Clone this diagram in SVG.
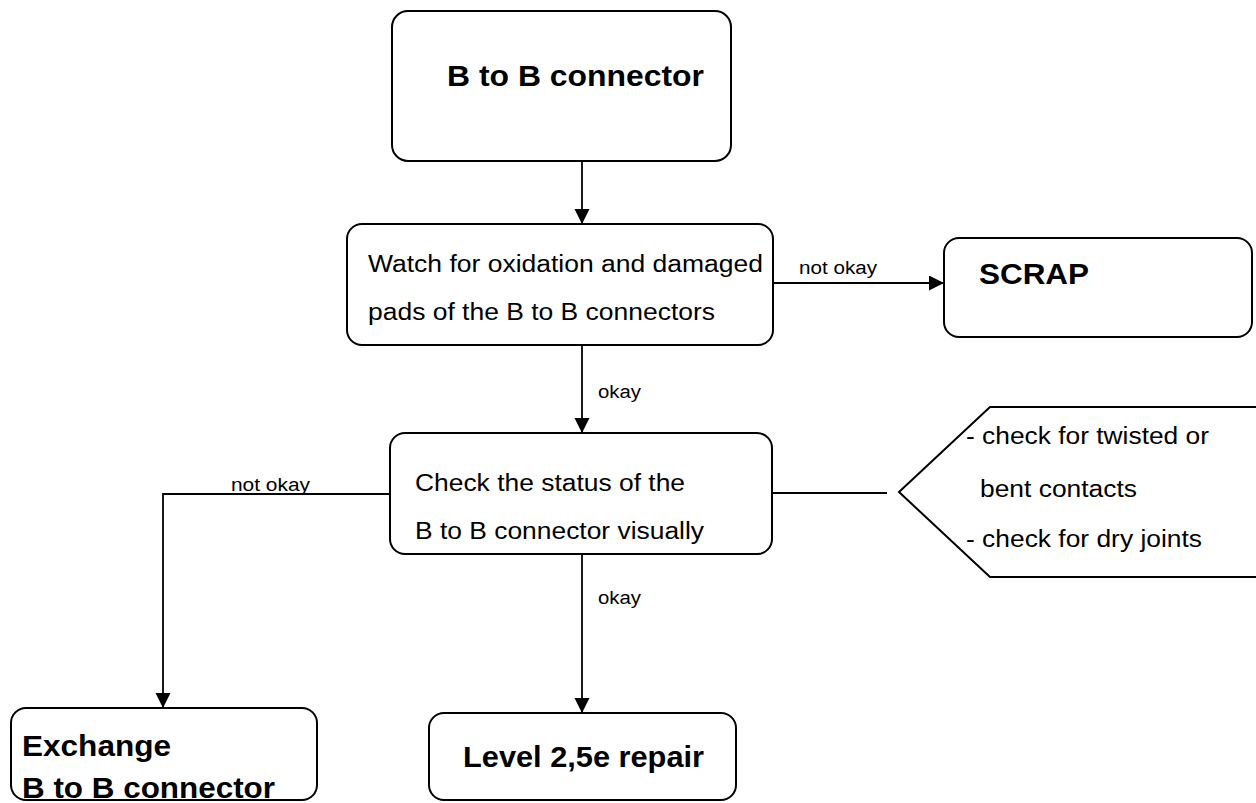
<svg xmlns="http://www.w3.org/2000/svg" width="1256" height="803" viewBox="0 0 1256 803">
<style>
.box{fill:#fff;stroke:#000;stroke-width:2}
.ln{fill:none;stroke:#000;stroke-width:1.8}
.t{font-family:"Liberation Sans",Arial,sans-serif;font-size:23px;fill:#000}
.b{font-family:"Liberation Sans",Arial,sans-serif;font-size:29px;font-weight:bold;fill:#000}
.l{font-family:"Liberation Sans",Arial,sans-serif;font-size:18px;fill:#000}
</style>
<defs>
<marker id="ah" markerUnits="userSpaceOnUse" markerWidth="16" markerHeight="16" refX="15" refY="7.5" orient="auto">
<path d="M0,0 L15,7.5 L0,15 z" fill="#000"/>
</marker>
</defs>
<g id="connectors">
<line class="ln" x1="582" y1="161" x2="582" y2="224" marker-end="url(#ah)"/>
<line class="ln" x1="773" y1="283" x2="944" y2="283" marker-end="url(#ah)"/>
<text class="l" x="799" y="274" textLength="78" lengthAdjust="spacingAndGlyphs">not okay</text>
<line class="ln" x1="582" y1="345" x2="582" y2="433" marker-end="url(#ah)"/>
<text class="l" x="598" y="398" textLength="43" lengthAdjust="spacingAndGlyphs">okay</text>
<polyline class="ln" points="390,494 163,494 163,708" marker-end="url(#ah)"/>
<text class="l" x="231" y="491" textLength="79" lengthAdjust="spacingAndGlyphs">not okay</text>
<line class="ln" x1="772" y1="493" x2="887" y2="493"/>
<line class="ln" x1="582" y1="554" x2="582" y2="713" marker-end="url(#ah)"/>
<text class="l" x="598" y="604" textLength="43" lengthAdjust="spacingAndGlyphs">okay</text>
</g>
<g id="start">
<rect class="box" x="392" y="11" width="339" height="150" rx="16"/>
<text class="b" x="447" y="86" font-size="30" textLength="257" lengthAdjust="spacingAndGlyphs">B to B connector</text>
</g>
<g id="watch">
<rect class="box" x="347" y="224" width="426" height="121" rx="15"/>
<text class="t" x="368" y="272" textLength="395" lengthAdjust="spacingAndGlyphs">Watch for oxidation and damaged</text>
<text class="t" x="368" y="320" textLength="347" lengthAdjust="spacingAndGlyphs">pads of the B to B connectors</text>
</g>
<g id="scrap">
<rect class="box" x="944" y="238" width="308" height="99" rx="15"/>
<text class="b" x="979" y="284" font-size="28" textLength="110" lengthAdjust="spacingAndGlyphs">SCRAP</text>
</g>
<g id="check">
<rect class="box" x="390" y="433" width="382" height="121" rx="15"/>
<text class="t" x="415" y="491" textLength="270" lengthAdjust="spacingAndGlyphs">Check the status of the</text>
<text class="t" x="415" y="539" textLength="289" lengthAdjust="spacingAndGlyphs">B to B connector visually</text>
</g>
<g id="note">
<polygon class="box" points="1262,407 990,407 899,492 990,577 1262,577"/>
<text class="t" x="966" y="444" textLength="243" lengthAdjust="spacingAndGlyphs">- check for twisted or</text>
<text class="t" x="980" y="497" textLength="157" lengthAdjust="spacingAndGlyphs">bent contacts</text>
<text class="t" x="966" y="547" textLength="236" lengthAdjust="spacingAndGlyphs">- check for dry joints</text>
</g>
<g id="exchange">
<rect class="box" x="11" y="708" width="306" height="92" rx="15"/>
<text class="b" x="22" y="756" textLength="149" lengthAdjust="spacingAndGlyphs">Exchange</text>
<text class="b" x="22" y="798" textLength="253" lengthAdjust="spacingAndGlyphs">B to B connector</text>
</g>
<g id="repair">
<rect class="box" x="429" y="713" width="307" height="87" rx="15"/>
<text class="b" x="463" y="767" textLength="241" lengthAdjust="spacingAndGlyphs">Level 2,5e repair</text>
</g>
</svg>
